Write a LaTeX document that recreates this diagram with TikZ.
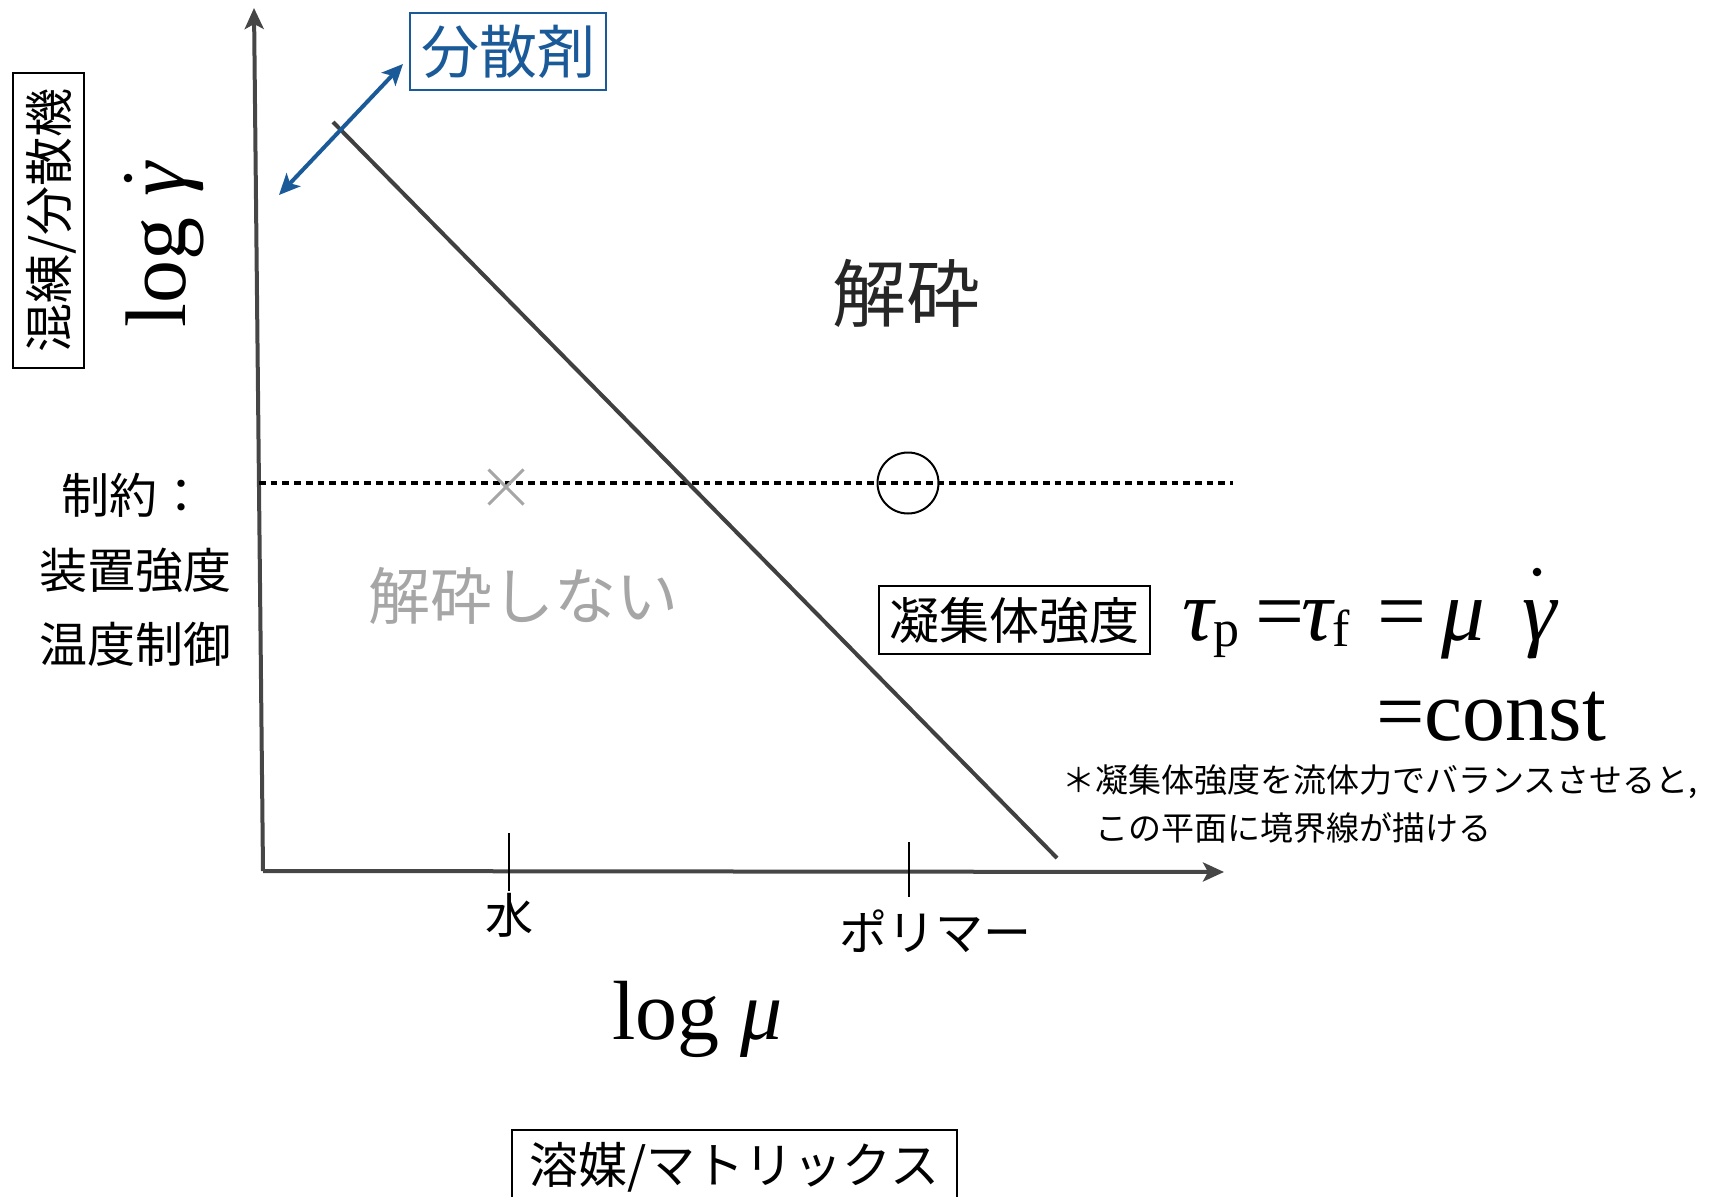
\documentclass[tikz,border=0pt]{standalone}
\usepackage{fontspec}
\setmainfont{Liberation Serif}
\newfontfamily\jp{Noto Sans CJK JP}
\usetikzlibrary{arrows.meta,shapes.misc}
\definecolor{axisgray}{HTML}{464646}
\definecolor{linegray}{HTML}{404040}
\definecolor{bluec}{RGB}{26,90,152}
\definecolor{lightg}{HTML}{A6A6A6}
\newcommand\jfs[1]{\jp\fontsize{#1}{#1}\selectfont}
\newcommand\sfs[1]{\fontsize{#1}{#1}\selectfont}
\begin{document}
\begin{tikzpicture}[x=1pt,y=-1pt,
  jt/.style n args={3}{inner sep=0pt, font=\jfs{#1}, text height=#2pt, text depth=#3pt},
  frame/.style={draw=black, line width=2pt},
  axisline/.style={draw=axisgray, line width=4pt, -{Stealth[length=21pt,width=19pt,inset=5pt]}},
  eq/.style={anchor=base west, inner sep=0pt, font=\sfs{87}},
  tick/.style={draw=black, line width=2pt},
  ]
\useasboundingbox (0,0) rectangle (1715,1196);

% axes
\coordinate (O) at (263,871);
\coordinate (Ytop) at (254,8);
\coordinate (Xend) at (1224,872);
\draw[axisline] (O) -- (Ytop);
\draw[axisline] (O) -- (Xend);

% dotted constraint line
\coordinate (d1) at (259,483);
\coordinate (d2) at (1233,483);
\draw[line width=3.3pt, dash pattern=on 6.7pt off 5pt] (d1) -- (d2);

% boundary line
\coordinate (L1) at (333,122);
\coordinate (L2) at (1057,858);
\draw[draw=linegray, line width=4pt] (L1) -- (L2);

% dispersant box and arrow
\node[frame, draw=bluec, text=bluec, minimum width=196pt, minimum height=77pt, jt={58}{48.1}{4.1}] (bsz) at (508,51.5) {分散剤};
\coordinate (b1) at (279,195);
\coordinate (b2) at (403,64);
\draw[draw=bluec, line width=4pt, {Stealth[length=21pt,width=19pt,inset=5pt]}-{Stealth[length=21pt,width=19pt,inset=5pt]}] (b1) -- (b2);

% y axis labels
\node[frame, rotate=90, minimum width=295pt, minimum height=71pt, jt={49}{40.7}{3.4}] (kneader) at (48.5,220.5) {混練/分散機};
\node[rotate=90, anchor=base west, inner sep=0pt, font=\sfs{86}] (lgd) at (185,328) {log {\itshape γ}};
\fill (128,178) circle (4.3);

% constraints
\node[jt={48}{39.8}{3.4}] (c1) at (133,495) {制約：};
\node[jt={48}{39.8}{3.4}] (c2) at (135,570) {装置強度};
\node[jt={48}{39.8}{3.4}] (c3) at (135,644) {温度制御};

% regions
\node[jt={74}{61.4}{5.2}, text=black!85] (kaisai) at (906,293) {解砕};
\node[jt={62}{51.5}{4.3}, text=lightg] (nokaisai) at (523,596) {解砕しない};

% markers
\node[cross out, draw=lightg, line width=3pt, minimum size=32pt, inner sep=0pt] (ng) at (506,487) {};
\node[circle, draw=black, line width=2pt, minimum size=61pt, inner sep=0pt] (ok) at (908,483) {};

% agglomerate strength
\node[frame, minimum width=271pt, minimum height=68pt, jt={50}{41.5}{3.5}] (agg) at (1014.5,620) {凝集体強度};
\node[eq] (t1) at (1182,640) {{\itshape τ}\raisebox{-6pt}{\sfs{52}p}};
\node[eq] (e1) at (1255,640) {=};
\node[eq] (t2) at (1301,640) {{\itshape τ}\raisebox{-6pt}{\sfs{52}f}};
\node[eq] (e2) at (1377,640) {=};
\node[eq] (mu) at (1441,640) {{\itshape μ}};
\node[eq] (gd) at (1522,640) {{\itshape γ}};
\fill (1537,572) circle (4.3);
\node[eq, font=\sfs{86}] (cst) at (1376,740) {=const};

% footnote
\node[anchor=base west, inner sep=0pt, font=\jfs{33}] (fn1) at (1062,792) {＊凝集体強度を流体力でバランスさせると,};
\node[anchor=base west, inner sep=0pt, font=\jfs{33}] (fn2) at (1095,840) {この平面に境界線が描ける};

% ticks
\coordinate (w1) at (509,833);
\coordinate (w2) at (509,891);
\coordinate (p1) at (909,842);
\coordinate (p2) at (909,897);
\draw[tick] (w1) -- (w2);
\draw[tick] (p1) -- (p2);
\node[jt={48}{39.8}{3.4}] (water) at (509,915) {水};
\node[jt={48}{39.8}{3.4}] (poly) at (935,932) {ポリマー};

% x axis label
\node[anchor=base west, inner sep=0pt, font=\sfs{84}] (lmu) at (612,1039) {log {\itshape μ}};
\node[frame, minimum width=445pt, minimum height=70pt, jt={49}{40.7}{3.4}] (solv) at (734.5,1165) {溶媒/マトリックス};
\end{tikzpicture}
\end{document}
